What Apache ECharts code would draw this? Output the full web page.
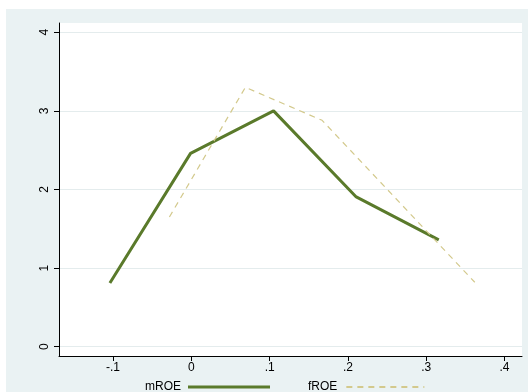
<!DOCTYPE html>
<html><head><meta charset="utf-8">
<script src="https://cdn.jsdelivr.net/npm/echarts@6/dist/echarts.min.js"></script>
<style>html,body{margin:0;padding:0;background:#fff}#c{width:528px;height:392px}</style>
</head><body><div id="c"></div>
<script>
const mROE_x = [-0.104, -0.001, 0.105, 0.210, 0.316];
const mROE_y = [0.81, 2.46, 3.00, 1.91, 1.36];
const fROE_x = [-0.028, 0.069, 0.167, 0.362];
const fROE_y = [1.65, 3.30, 2.88, 0.82];
const xTicks = [-0.1, 0, 0.1, 0.2, 0.3, 0.4];
const xTickLabels = ['-.1', '0', '.1', '.2', '.3', '.4'];
const yTicks = [0, 1, 2, 3, 4];

const chart = echarts.init(document.getElementById('c'));
const fmtX = v => { const i = xTicks.findIndex(t => Math.abs(t - v) < 1e-9); return i >= 0 ? xTickLabels[i] : ''; };
chart.setOption({
  backgroundColor: '#eaf2f3',
  animation: false,
  textStyle: { fontFamily: 'Liberation Sans, Arial, sans-serif' },
  graphic: [
    { type: 'rect', shape: { x: 0, y: 0, width: 528, height: 9 }, style: { fill: '#fff' }, silent: true },
    { type: 'rect', shape: { x: 0, y: 0, width: 6, height: 392 }, style: { fill: '#fff' }, silent: true }
  ],
  grid: { left: 59, right: 6, top: 23, bottom: 36, show: true, backgroundColor: '#fff', borderWidth: 0 },
  xAxis: {
    type: 'value', min: -0.169, max: 0.4223,
    axisLine: { show: true, onZero: false, lineStyle: { color: '#000', width: 1 } },
    axisTick: { show: true, length: 5, lineStyle: { color: '#000' }, customValues: xTicks },
    axisLabel: { customValues: xTicks, formatter: fmtX, color: '#000', fontSize: 12, margin: 6 },
    splitLine: { show: false }
  },
  yAxis: {
    type: 'value', min: -0.118, max: 4.118,
    axisLine: { show: true, onZero: false, lineStyle: { color: '#000', width: 1 } },
    axisTick: { show: true, length: 5, lineStyle: { color: '#000' }, customValues: yTicks },
    axisLabel: { customValues: yTicks, rotate: 90, color: '#000', fontSize: 12, margin: 8 },
    splitLine: { show: true, lineStyle: { color: '#e4eced', width: 1 } }
  },
  legend: [
    { left: 140, top: 376, align: 'right', itemWidth: 82, itemHeight: 10, itemGap: 0,
      itemStyle: { opacity: 0 }, lineStyle: { width: 3 },
      textStyle: { color: '#000', fontSize: 12, padding: [0, 2, 0, 0] }, data: ['mROE'] },
    { left: 303, top: 376, align: 'right', itemWidth: 78, itemHeight: 10, itemGap: 0,
      itemStyle: { opacity: 0 },
      textStyle: { color: '#000', fontSize: 12, padding: [0, 4, 0, 0] }, data: ['fROE'] }
  ],
  series: [
    { name: 'mROE', type: 'line', showSymbol: false, symbol: 'none',
      data: mROE_x.map((x, i) => [x, mROE_y[i]]),
      lineStyle: { color: '#5a7a2b', width: 3 }, itemStyle: { color: '#5a7a2b' } },
    { name: 'fROE', type: 'line', showSymbol: false, symbol: 'none',
      data: fROE_x.map((x, i) => [x, fROE_y[i]]),
      lineStyle: { color: '#d3c98c', width: 1.2, type: [6, 5] }, itemStyle: { color: '#d3c98c' } }
  ]
});
</script></body></html>
